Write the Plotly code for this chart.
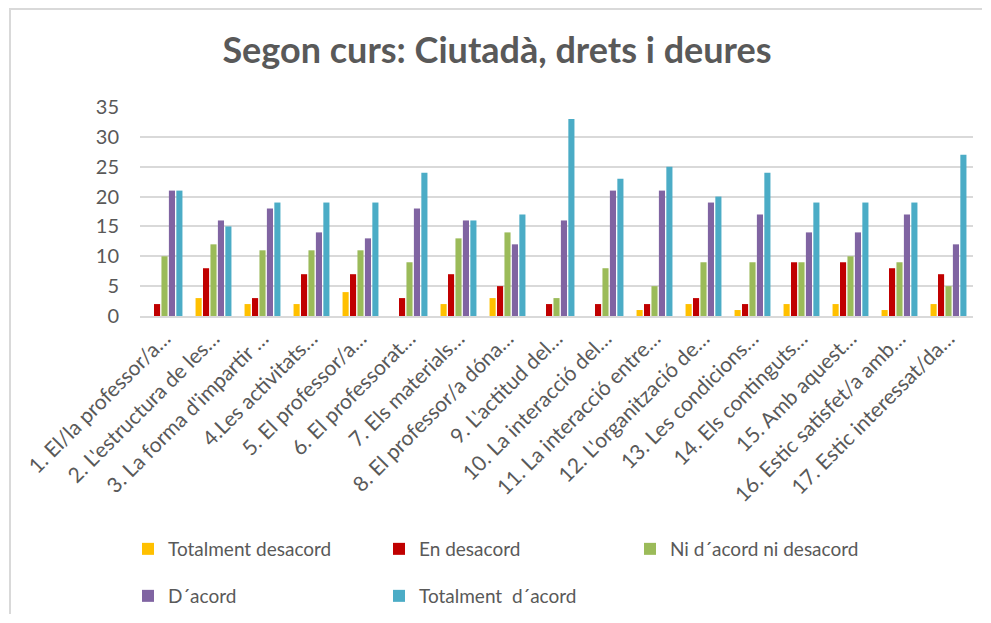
import plotly.graph_objects as go

categories = [
    "1. El/la professor/a…", "2. L'estructura de les…", "3. La forma d'impartir …",
    "4.Les activitats…", "5. El professor/a…", "6. El professorat…",
    "7. Els materials…", "8. El professor/a dóna…", "9. L'actitud del…",
    "10. La interacció del…", "11. La interacció entre…", "12. L'organització de…",
    "13. Les condicions…", "14. Els continguts…", "15. Amb aquest…",
    "16. Estic satisfet/a amb…", "17. Estic interessat/da…",
]
totalment_desacord = [0, 3, 2, 2, 4, 0, 2, 3, 0, 0, 1, 2, 1, 2, 2, 1, 2]
en_desacord = [2, 8, 3, 7, 7, 3, 7, 5, 2, 2, 2, 3, 2, 9, 9, 8, 7]
ni_acord = [10, 12, 11, 11, 11, 9, 13, 14, 3, 8, 5, 9, 9, 9, 10, 9, 5]
d_acord = [21, 16, 18, 14, 13, 18, 16, 12, 16, 21, 21, 19, 17, 14, 14, 17, 12]
totalment_acord = [21, 15, 19, 19, 19, 24, 16, 17, 33, 23, 25, 20, 24, 19, 19, 19, 27]

series = [
    ("Totalment desacord", totalment_desacord, "#FFC000", "legend"),
    ("En desacord", en_desacord, "#C00000", "legend"),
    ("Ni d´acord ni desacord", ni_acord, "#9BBB59", "legend"),
    ("D´acord", d_acord, "#8064A2", "legend2"),
    ("Totalment  d´acord", totalment_acord, "#4BACC6", "legend2"),
]

FONT = "Lato"
GRAY = "#595959"

fig = go.Figure()
for name, vals, color, leg in series:
    fig.add_trace(go.Bar(name=name, x=categories, y=vals, legend=leg,
                         marker=dict(color=color, line=dict(width=0))))

# page is offset by an 8px body margin; keep the figure inside the window
W, H = 975, 607
L, R, T, B = 132, 10, 99, 299
pw, ph = W - L - R, H - T - B

leg_common = dict(orientation="h", x=120 / W, xanchor="left", xref="container",
                  yanchor="top", yref="container",
                  entrywidth=206, entrywidthmode="pixels",
                  font=dict(size=19, color=GRAY, family=FONT),
                  itemwidth=30, traceorder="normal", bgcolor="rgba(0,0,0,0)")

# outer chart frame: only its left and top edges fall inside the picture
frame_left = (2 - L) / pw
frame_top = (H - B - 1) / ph
fig.update_layout(
    width=W, height=H,
    margin=dict(l=L, r=R, t=T, b=B, autoexpand=False),
    paper_bgcolor="white", plot_bgcolor="white",
    font=dict(family=FONT, color=GRAY),
    title=dict(text="<b>Segon curs: Ciutadà, drets i deures</b>",
               x=(497 - 8) / W, xref="container", xanchor="center",
               y=1 - 42 / H, yanchor="middle", yref="container",
               font=dict(size=36, color=GRAY, family=FONT)),
    barmode="group", bargap=0.24, bargroupgap=0.18,
    xaxis=dict(tickangle=-45, tickfont=dict(size=21, color=GRAY),
               showline=True, linecolor="#D9D9D9", linewidth=2,
               ticks="", showgrid=False),
    yaxis=dict(range=[0, 35], dtick=5, tickfont=dict(size=20, color=GRAY),
               showgrid=True, gridcolor="#D9D9D9", gridwidth=1.5,
               zeroline=False, showline=False, ticks="", ticklabelstandoff=20),
    legend=dict(**leg_common, y=1 - 522 / H),
    legend2=dict(**leg_common, y=1 - 569 / H),
    shapes=[
        dict(type="path", xref="paper", yref="paper",
             path=f"M {frame_left},{(H - B - H + 1) / ph} L {frame_left},{frame_top} "
                  f"L {(W - 1 - L) / pw},{frame_top}",
             line=dict(color="#D9D9D9", width=2)),
    ],
)

fig.write_html("out.html", config={"displayModeBar": False})
